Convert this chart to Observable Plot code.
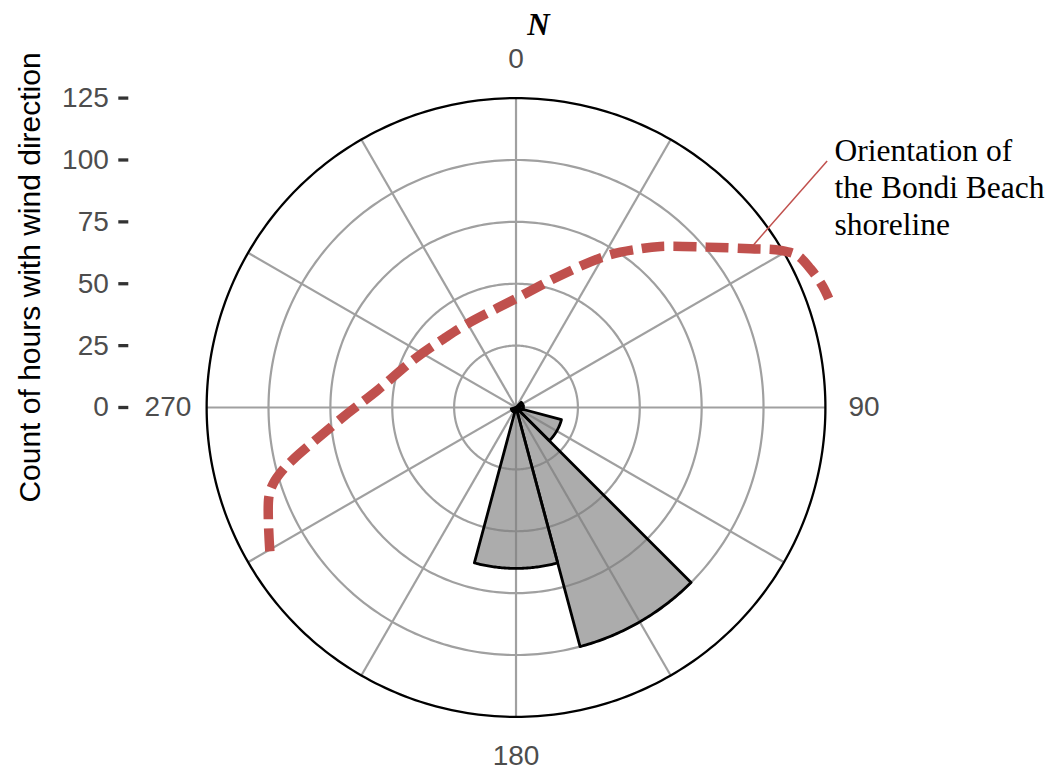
<!DOCTYPE html>
<html>
<head>
<meta charset="utf-8">
<script src="https://cdn.jsdelivr.net/npm/d3@7"></script>
<script src="https://cdn.jsdelivr.net/npm/@observablehq/plot@0.6"></script>
<style>
  body { margin: 0; background: #fff; }
  #title {
    width: 1057px; height: 50px; box-sizing: border-box;
    padding-left: 20px; text-align: center;
    font: italic bold 31px "Liberation Serif", "Times New Roman", serif;
    line-height: 50px; color: #000;
  }
</style>
</head>
<body>
<div id="title">N</div>
<div id="chart"></div>
<script>
// Wind direction bins (centre bearing, degrees) and hours counted in each bin
const binCentres = [60, 90, 120, 150, 180, 210, 240];
const hourCounts = [3, 3, 19, 100, 65, 2, 2];
const binWidth = 30;

// Radial axis ticks, grid rings and compass spokes
const radialTicks = [0, 25, 50, 75, 100, 125];
const gridRadii = [25, 50, 75, 100];
const outerRadius = 125;
const spokeBearings = [0, 30, 60, 90, 120, 150, 180, 210, 240, 270, 300, 330];
const compassLabels = [0, 90, 180, 270];

// Shoreline orientation path (bearing, count)
const shoreBearing = [239.7, 250.0, 252.6, 254.9, 257.0, 261.1, 267.9, 277.0, 295.2, 313.6, 329.8,
                      359.7, 18.6, 31.0, 38.1, 41.9, 50.0, 55.9, 59.3, 61.6, 64.8, 68.3, 70.8];
const shoreCount = [115.2, 106.3, 102.8, 97.8, 92.1, 81.3, 68.2, 56.5, 45.6, 40.3, 39.1,
                    43.9, 56.3, 71.6, 81.5, 87.4, 100.8, 114.4, 124.3, 129.2, 131.5, 133.2, 133.8];

// Annotation text and its leader line (bearing, count)
const noteText = "Orientation of\nthe Bondi Beach\nshoreline";
const noteAt = {bearing: 49.47, count: 169.35};
const leaderFrom = {bearing: 51.6, count: 160.4};
const leaderTo = {bearing: 55.7, count: 115.5};
const axisTitle = "Count of hours with wind direction";
const labelRadius = 140.625;

// Polar (bearing clockwise from north, radius) to plane coordinates
const rad = b => b * Math.PI / 180;
const px = (b, r) => r * Math.sin(rad(b));
const py = (b, r) => r * Math.cos(rad(b));

const ring = r => d3.range(0, 361, 1).map(b => ({r, b}));
const gridPts = gridRadii.flatMap(ring);
const outerPts = ring(outerRadius);

const wedgePts = binCentres.flatMap((c, i) => {
  const b0 = c - binWidth / 2, b1 = c + binWidth / 2, v = hourCounts[i];
  return [
    {bin: c, b: b0, r: 0},
    ...d3.range(b0, b1 + 0.001, 0.5).map(b => ({bin: c, b, r: v})),
    {bin: c, b: b1, r: 0}
  ];
});

const shorePts = shoreBearing.map((b, i) => ({b, r: shoreCount[i]}));

const X = d => px(d.b, d.r);
const Y = d => py(d.b, d.r);
const red = "#c0504d";
const gridGray = "#a0a0a0";

// The x domain reaches left of the circle so the radial axis sits beside it
const chart = Plot.plot({
  width: 1057,
  height: 720,
  marginLeft: 128.3,
  marginRight: 232.1,
  marginTop: 47.6,
  marginBottom: 53.6,
  x: {domain: [-156.45, outerRadius], axis: null},
  y: {
    domain: [-outerRadius, outerRadius], axis: "left",
    ticks: radialTicks, tickSize: 10, tickPadding: 10,
    tickFormat: d => String(d), label: null
  },
  style: {fontFamily: "'Liberation Sans', Arial, sans-serif", fontSize: "28px", background: "#fff", overflow: "visible"},
  marks: [
    Plot.line(gridPts, {x: X, y: Y, z: "r", stroke: gridGray, strokeWidth: 2.2}),
    Plot.link(spokeBearings, {
      x1: () => 0, y1: () => 0,
      x2: b => px(b, outerRadius), y2: b => py(b, outerRadius),
      stroke: gridGray, strokeWidth: 2.2
    }),
    Plot.line(wedgePts, {
      x: X, y: Y, z: "bin",
      fill: "#7f7f7f", fillOpacity: 0.65,
      stroke: "#000", strokeWidth: 2.8, strokeLinejoin: "round"
    }),
    Plot.line(outerPts, {x: X, y: Y, stroke: "#000", strokeWidth: 2.3}),
    Plot.line(shorePts, {
      x: X, y: Y, stroke: red, strokeWidth: 9.5,
      strokeDasharray: "23,9", strokeLinecap: "butt", curve: "catmull-rom"
    }),
    Plot.link([leaderFrom], {
      x1: d => px(d.bearing, d.count), y1: d => py(d.bearing, d.count),
      x2: () => px(leaderTo.bearing, leaderTo.count), y2: () => py(leaderTo.bearing, leaderTo.count),
      stroke: red, strokeWidth: 1.5
    }),
    Plot.text([noteText], {
      x: () => px(noteAt.bearing, noteAt.count),
      y: () => py(noteAt.bearing, noteAt.count),
      text: d => d, textAnchor: "start", lineAnchor: "top",
      fontFamily: "'Liberation Serif', 'Times New Roman', serif",
      fontSize: 31.5, lineHeight: 1.165, fill: "#000"
    }),
    Plot.text(compassLabels, {
      x: b => px(b, labelRadius), y: b => py(b, labelRadius),
      text: b => String(b), fontSize: 28, fill: "#4d4d4d"
    }),
    Plot.text([axisTitle], {
      frameAnchor: "left", textAnchor: "middle", rotate: -90, dx: -98, dy: -130,
      text: d => d, fontSize: 30, fill: "#000"
    })
  ]
});

// Radial axis styling: dark short ticks, grey labels
const yAxis = d3.select(chart).selectAll('[aria-label="y-axis"], [aria-label="y-axis tick"], [aria-label="y-axis tick label"]');
yAxis.selectAll("line").attr("stroke", "#333").attr("stroke-width", 3.3);
yAxis.selectAll("path").attr("stroke", "#333").attr("stroke-width", 3.3);
yAxis.selectAll("text").attr("fill", "#4d4d4d");
d3.select(chart).selectAll('[aria-label="y-axis"] .domain').remove();

document.getElementById("chart").appendChild(chart);
</script>
</body>
</html>
